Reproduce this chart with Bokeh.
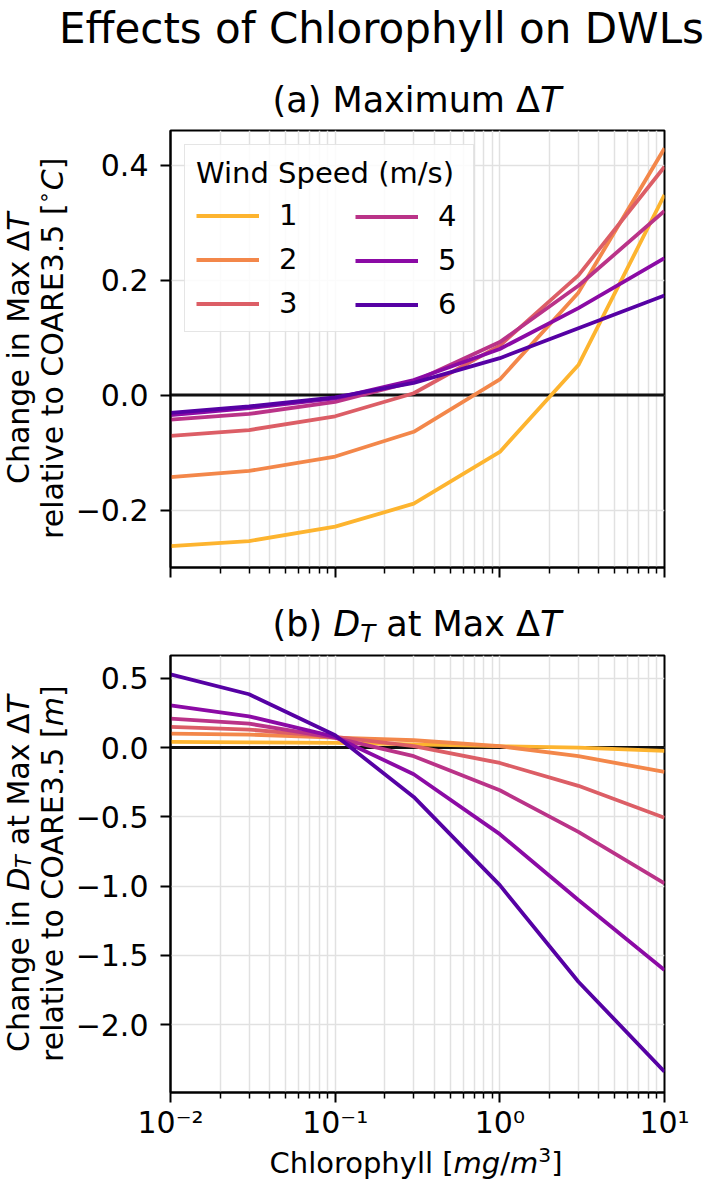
from bokeh.plotting import figure
from bokeh.models import Div, FixedTicker, Legend, LegendItem, Span, ColumnDataSource, Range1d
from bokeh.layouts import column, row
from bokeh.embed import file_html
from bokeh.resources import INLINE

# ---------------- data ----------------
chlorophyll = [0.01, 0.03, 0.1, 0.3, 1, 3, 10]
wind_speeds = ["1", "2", "3", "4", "5", "6"]

max_dT_ws1 = [-0.263, -0.254, -0.229, -0.189, -0.099, 0.052, 0.348]
max_dT_ws2 = [-0.143, -0.132, -0.107, -0.064, 0.027, 0.178, 0.429]
max_dT_ws3 = [-0.071, -0.061, -0.037, 0.003, 0.086, 0.208, 0.397]
max_dT_ws4 = [-0.043, -0.033, -0.012, 0.023, 0.092, 0.190, 0.320]
max_dT_ws5 = [-0.035, -0.023, -0.006, 0.026, 0.080, 0.151, 0.238]
max_dT_ws6 = [-0.031, -0.020, -0.004, 0.021, 0.064, 0.116, 0.173]

depth_ws1 = [0.041, 0.038, 0.034, 0.024, 0.010, 0.000, -0.024]
depth_ws2 = [0.101, 0.094, 0.072, 0.053, 0.010, -0.062, -0.175]
depth_ws3 = [0.149, 0.130, 0.077, 0.010, -0.111, -0.276, -0.507]
depth_ws4 = [0.209, 0.173, 0.070, -0.062, -0.308, -0.608, -0.981]
depth_ws5 = [0.305, 0.226, 0.077, -0.192, -0.625, -1.100, -1.606]
depth_ws6 = [0.529, 0.385, 0.089, -0.356, -0.993, -1.690, -2.340]

line_colors = ["#fdb42f", "#f3874a", "#dc5e66", "#ba3388", "#8b0aa5", "#5601a4"]

x_major_ticks = [0.01, 0.1, 1, 10]
x_tick_labels = ["10\u207b\u00b2", "10\u207b\u00b9", "10\u2070", "10\u00b9"]
x_minor_ticks = [0.02, 0.03, 0.04, 0.05, 0.06, 0.07, 0.08, 0.09,
                 0.2, 0.3, 0.4, 0.5, 0.6, 0.7, 0.8, 0.9,
                 2, 3, 4, 5, 6, 7, 8, 9]
top_y_ticks = [-0.2, 0.0, 0.2, 0.4]
top_y_labels = ["\u22120.2", "0.0", "0.2", "0.4"]
bot_y_ticks = [-2.0, -1.5, -1.0, -0.5, 0.0, 0.5]
bot_y_labels = ["\u22122.0", "\u22121.5", "\u22121.0", "\u22120.5", "0.0", "0.5"]

# ---------------- style ----------------
FONT = "DejaVu Sans"
GRID = "#e1e1e1"
FRAME_H = 437
LEFT_DIV_W = 72
BORDER_L = 98


def panel(series, y_lo, y_hi, y_ticks, y_labels, bottom, show_x_labels):
    height = 10 + FRAME_H + bottom
    p = figure(width=BORDER_L + 494 + 34, height=height, x_axis_type="log",
               x_range=Range1d(0.01, 10), y_range=Range1d(y_lo, y_hi),
               output_backend="svg", toolbar_location=None,
               min_border_left=BORDER_L, min_border_right=34, min_border_top=10,
               min_border_bottom=bottom,
               background_fill_color="white", border_fill_color="white")
    p.outline_line_color = "black"
    p.outline_line_width = 2

    xt = FixedTicker(ticks=x_major_ticks, minor_ticks=x_minor_ticks)
    p.xaxis.ticker = xt
    p.xgrid.ticker = xt
    yt = FixedTicker(ticks=y_ticks)
    p.yaxis.ticker = yt
    p.ygrid.ticker = yt
    p.xaxis.major_label_overrides = dict(zip(x_major_ticks, x_tick_labels))
    p.yaxis.major_label_overrides = dict(zip(y_ticks, y_labels))

    for ax in p.axis:
        ax.axis_line_color = "black"
        ax.axis_line_width = 2
        ax.major_tick_line_color = "black"
        ax.major_tick_line_width = 2
        ax.major_tick_out = 10
        ax.major_tick_in = 0
        ax.minor_tick_line_color = "black"
        ax.minor_tick_line_width = 1.5
        ax.minor_tick_out = 6
        ax.minor_tick_in = 0
        ax.major_label_text_font = FONT
        ax.major_label_text_font_size = "30px"
        ax.major_label_text_color = "black"
    p.yaxis.major_label_standoff = 12
    p.xaxis.major_label_standoff = 2
    if not show_x_labels:
        p.xaxis.major_label_text_color = None

    p.xgrid.grid_line_color = GRID
    p.xgrid.grid_line_width = 1.5
    p.xgrid.minor_grid_line_color = GRID
    p.xgrid.minor_grid_line_width = 1.5
    p.ygrid.grid_line_color = GRID
    p.ygrid.grid_line_width = 1.5

    p.add_layout(Span(location=0, dimension="width", line_color="#111111",
                      line_width=3, level="underlay"))

    data = {"chl": chlorophyll}
    for i, s in enumerate(series):
        data["ws%d" % (i + 1)] = s
    src = ColumnDataSource(data)
    rends = []
    for i, c in enumerate(line_colors):
        rends.append(p.line("chl", "ws%d" % (i + 1), source=src,
                            line_color=c, line_width=3.8))
    return p, rends


fig_a, rends_a = panel([max_dT_ws1, max_dT_ws2, max_dT_ws3, max_dT_ws4, max_dT_ws5, max_dT_ws6],
                       -0.300, 0.460, top_y_ticks, top_y_labels, 20, False)
fig_b, rends_b = panel([depth_ws1, depth_ws2, depth_ws3, depth_ws4, depth_ws5, depth_ws6],
                       -2.490, 0.665, bot_y_ticks, bot_y_labels, 56, True)

LEG_ITEM_H = 33
LEG_SPACING = 10
common = dict(glyph_width=63, glyph_height=LEG_ITEM_H, label_height=LEG_ITEM_H,
              label_standoff=20, spacing=LEG_SPACING,
              label_text_font=FONT, label_text_font_size="29px",
              label_text_color="black")
leg_a = Legend(items=[LegendItem(label=wind_speeds[i], renderers=[rends_a[i]]) for i in range(3)],
               title="Wind Speed (m/s)", title_text_font=FONT, title_text_font_size="29px",
               title_text_font_style="normal", title_text_color="black", title_standoff=8,
               location="top_left", margin=14, padding=11, label_width=183,
               border_line_color="#cccccc", border_line_width=1.5,
               background_fill_color="white", background_fill_alpha=0.85, **common)
leg_b = Legend(items=[LegendItem(label=wind_speeds[i], renderers=[rends_a[i]]) for i in range(3, 6)],
               location=(185, FRAME_H - 72 - (3 * LEG_ITEM_H + 2 * LEG_SPACING)),
               margin=0, padding=0, label_width=20,
               border_line_color=None, background_fill_alpha=0, **common)
fig_a.add_layout(leg_a)
fig_a.add_layout(leg_b)

# ---------------- texts (HTML for math-style italics) ----------------
BASE = "font-family:'DejaVu Sans'; color:black; white-space:nowrap;"
PAGE_W = 709


def hdiv(html, height, size, top, pad_left=None, left=None):
    if left is not None:
        pos = "position:relative; left:%dpx; top:%dpx;" % (left, top)
    else:
        pos = ("position:relative; top:%dpx; width:%dpx; box-sizing:border-box; "
               "padding-left:%dpx; text-align:center;" % (top, PAGE_W, pad_left))
    inner = '<div style="%s %s font-size:%dpx; line-height:%dpx;">%s</div>' % (
        pos, BASE, size, size, html)
    return Div(text=inner, width=PAGE_W, height=height, margin=(0, 0, 0, 0))


def vdiv(html, height):
    inner = ('<div style="position:relative; left:2px; top:10px; width:68px; height:%dpx; '
             'writing-mode:vertical-rl; transform:rotate(180deg); text-align:center; '
             '%s font-size:30px; line-height:34px;">%s</div>' % (FRAME_H, BASE, html))
    return Div(text=inner, width=LEFT_DIV_W, height=height, margin=(0, 0, 0, 0))


SUP_V = '<span style="font-size:0.7em; position:relative; left:0.45em;">%s</span>'
SUB_V = '<span style="font-size:0.7em; position:relative; left:-0.25em;">%s</span>'
SUP_H = '<span style="font-size:0.7em; position:relative; top:-0.55em;">%s</span>'
SUB_H = '<span style="font-size:0.7em; position:relative; top:0.25em;">%s</span>'

sup_title = hdiv("Effects of Chlorophyll on DWLs", 83, 42, 8, left=59)
title_a = hdiv("(a) Maximum \u0394<i>T</i>", 37, 35, 0, pad_left=125)
title_b = hdiv("(b) <i>D</i>" + SUB_H % "<i>T</i>" + " at Max \u0394<i>T</i>", 58, 35, 20, pad_left=125)
xlabel = hdiv("Chlorophyll [<i>mg</i>/<i>m</i>" + SUP_H % "3" + "]", 41, 29, 1, pad_left=123)

ylab_a = vdiv("Change in Max \u0394<i>T</i><br>relative to COARE3.5 [" + SUP_V % "\u2218" + "<i>C</i>]",
              fig_a.height)
ylab_b = vdiv("Change in <i>D</i>" + SUB_V % "<i>T</i>" + " at Max \u0394<i>T</i><br>"
              "relative to COARE3.5 [<i>m</i>]", fig_b.height)

layout = column(sup_title, title_a, row(ylab_a, fig_a), title_b, row(ylab_b, fig_b), xlabel,
                spacing=0)

open("out.html", "w").write(file_html(layout, INLINE, title="Effects of Chlorophyll on DWLs"))
